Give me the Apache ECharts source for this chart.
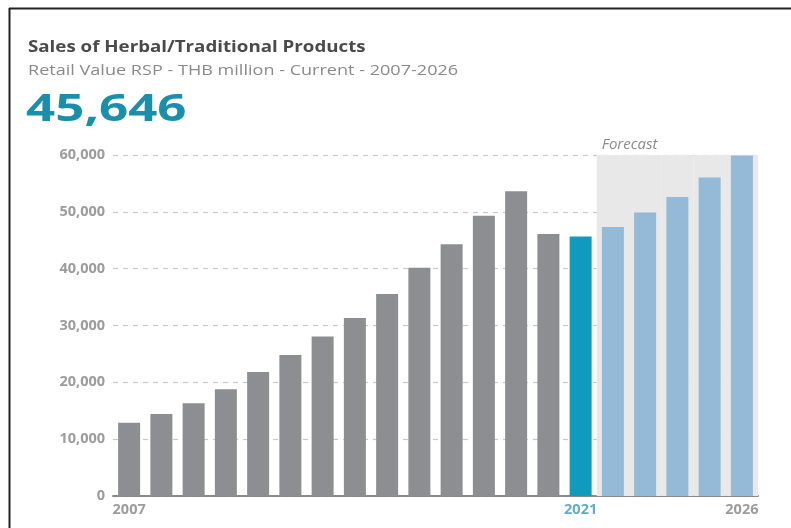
<!DOCTYPE html>
<html>
<head>
<meta charset="utf-8">
<script src="https://cdn.jsdelivr.net/npm/echarts@6/dist/echarts.min.js"></script>
<style>html,body{margin:0;padding:0;background:#fff}#c{width:791px;height:528px}</style>
</head>
<body>
<div id="c"></div>
<script>
const years = ['2007','2008','2009','2010','2011','2012','2013','2014','2015','2016','2017','2018','2019','2020','2021','2022','2023','2024','2025','2026'];
const sales = [12900,14450,16300,18800,21800,24800,28050,31300,35550,40150,44300,49300,53600,46100,45646,47350,49900,52600,56050,59900];
const currentYear = '2021';
const forecastYears = ['2022','2023','2024','2025','2026'];
const labelYears = ['2007','2021','2026'];
const yTicks = [0,10000,20000,30000,40000,50000,60000];
const titleText = 'Sales of Herbal/Traditional Products';
const subtitleText = 'Retail Value RSP - THB million - Current - 2007-2026';
const headline = '45,646';

const yMax = yTicks[yTicks.length-1];
const C_GREY = '#8d8e91', C_CUR = '#0e9bbd', C_FC = '#95bad7', C_BAND = '#e8e8e8';

const barData = years.map((y,i) => ({
  value: sales[i],
  itemStyle: { color: y === currentYear ? C_CUR : (forecastYears.includes(y) ? C_FC : C_GREY) }
}));
const bandData = years.map(y => forecastYears.includes(y) ? yMax : null);

const chart = echarts.init(document.getElementById('c'));
chart.setOption({
  animation: false,
  textStyle: { fontFamily: 'Open Sans' },
  grid: { left: 113, right: 33, top: 155, bottom: 32, containLabel: false },
  xAxis: [
    { type: 'category', data: years,
      axisLine: { lineStyle: { color: '#8a8a8a', width: 2 } },
      axisTick: { show: false },
      axisLabel: {
        interval: (i, v) => labelYears.includes(v),
        color: (v) => v === currentYear ? '#62aec6' : '#9c9c9c',
        fontSize: 14.5, fontWeight: 'bold', margin: 6
      } },
    { type: 'category', data: years, show: false }
  ],
  yAxis: {
    type: 'value', min: yTicks[0], max: yMax, interval: yTicks[1]-yTicks[0],
    axisLine: { show: false }, axisTick: { show: false },
    axisLabel: { color: '#9c9c9c', fontSize: 14.5, fontWeight: 'bold', margin: 8,
      formatter: v => v.toLocaleString('en-US') },
    splitLine: { lineStyle: { color: '#c8c8c8', type: [5, 5], width: 1.2 } }
  },
  graphic: [
    { type: 'line', shape: { x1: 9, y1: 8.5, x2: 791, y2: 8.5 }, style: { stroke: '#222', lineWidth: 2 } },
    { type: 'line', shape: { x1: 9.5, y1: 8, x2: 9.5, y2: 528 }, style: { stroke: '#222', lineWidth: 2 } },
    { type: 'text', x: 28, y: 47, scaleX: 1.17,
      style: { text: titleText, fontFamily: 'Open Sans', fontSize: 16, fontWeight: 'bold', fill: '#4a4a4a',
        textAlign: 'left', textVerticalAlign: 'middle' } },
    { type: 'text', x: 28, y: 71, scaleX: 1.29,
      style: { text: subtitleText, fontFamily: 'Open Sans', fontSize: 14, fill: '#8a8a8a',
        textAlign: 'left', textVerticalAlign: 'middle' } },
    { type: 'text', x: 26, y: 110, scaleX: 1.38,
      style: { text: headline, fontFamily: 'Open Sans', fontSize: 37, fontWeight: 'bold', fill: '#1a8fab',
        textAlign: 'left', textVerticalAlign: 'middle' } }
  ],
  series: [
    { type: 'bar', xAxisIndex: 1, data: bandData, barWidth: '100%', silent: true, z: 1,
      itemStyle: { color: C_BAND },
      label: { show: true, position: 'insideTopLeft', offset: [0, -23],
        formatter: p => p.name === forecastYears[0] ? 'Forecast' : '',
        color: '#8a8a8a', fontStyle: 'italic', fontSize: 15 } },
    { type: 'bar', xAxisIndex: 0, data: barData, barWidth: 22, z: 3 }
  ]
});
</script>
</body>
</html>
